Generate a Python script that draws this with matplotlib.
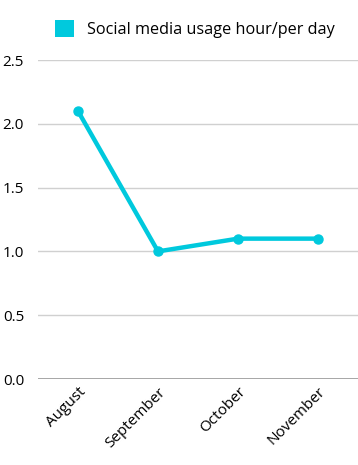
import matplotlib.pyplot as plt
from matplotlib.patches import Patch

# === Data
months = ["August", "September", "October", "November"]
usage_hours = [2.1, 1.0, 1.1, 1.1]
y_ticks = [0.0, 0.5, 1.0, 1.5, 2.0, 2.5]

line_color = "#00C9DD"

plt.rcParams['font.family'] = ['Open Sans', 'DejaVu Sans']

fig = plt.figure(figsize=(3.58, 4.65), dpi=100)
ax = fig.add_axes([38 / 358, 1 - 379 / 465, 320 / 358, 319 / 465])

x = list(range(len(months)))
ax.plot(x, usage_hours, color=line_color, linewidth=3.2, marker="o",
        markersize=6.5, solid_capstyle="round", zorder=3)

ax.set_xlim(-0.5, len(months) - 0.5)
ax.set_ylim(0, 2.5)
ax.set_yticks(y_ticks)
ax.set_yticklabels([f"{v:.1f}" for v in y_ticks], fontsize=11)
ax.set_xticks(x)
ax.set_xticklabels(months, rotation=45, ha="right", rotation_mode="anchor",
                   fontsize=11)

ax.grid(axis="y", color="#d0d0d0", linewidth=1)
ax.axhline(0, color="#999999", linewidth=1.2, zorder=2)
for side in ["top", "right", "left", "bottom"]:
    ax.spines[side].set_visible(False)
ax.tick_params(axis="both", length=0)
ax.tick_params(axis="y", pad=10)
ax.tick_params(axis="x", pad=4)

handle = Patch(facecolor=line_color, edgecolor="none")
fig.legend([handle], ["Social media usage hour/per day"], loc="center left",
           bbox_to_anchor=(40 / 358, 1 - 29 / 465), frameon=False,
           fontsize=11.7, handlelength=1.2, handleheight=1.2,
           handletextpad=0.8)

fig.savefig("out.png", dpi=100)
